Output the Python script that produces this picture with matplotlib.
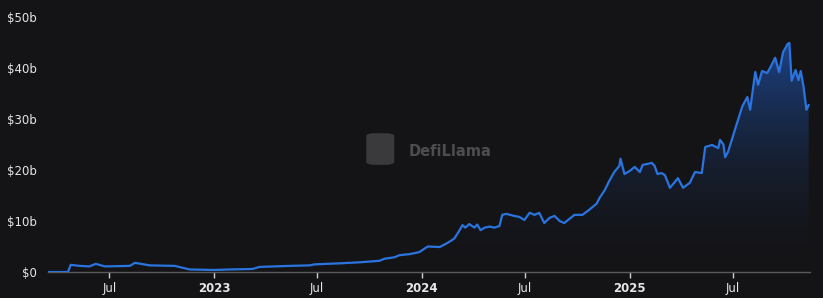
import numpy as np
import pandas as pd
import matplotlib
matplotlib.use("Agg")
import matplotlib.pyplot as plt
import matplotlib.dates as mdates
from matplotlib.patches import FancyBboxPatch

# ==================================================
# Daten (Milliarden USD)
# ==================================================

dates = [
    "2022-03-15", "2022-04-19", "2022-04-24", "2022-05-10", "2022-05-27", "2022-06-07",
    "2022-06-23", "2022-08-06", "2022-08-15", "2022-09-10", "2022-10-24", "2022-11-19",
    "2023-01-01", "2023-01-29", "2023-03-10", "2023-03-22", "2023-05-14", "2023-06-18",
    "2023-06-27", "2023-08-10", "2023-09-14", "2023-10-19", "2023-10-28", "2023-11-15",
    "2023-11-23", "2023-12-11", "2023-12-28", "2024-01-12", "2024-02-02", "2024-02-14",
    "2024-02-23", "2024-02-28", "2024-03-08", "2024-03-13", "2024-03-18", "2024-03-25",
    "2024-04-03", "2024-04-08", "2024-04-14", "2024-04-21", "2024-04-30", "2024-05-08",
    "2024-05-17", "2024-05-22", "2024-05-29", "2024-06-12", "2024-06-21", "2024-06-30",
    "2024-07-09", "2024-07-18", "2024-07-26", "2024-08-04", "2024-08-13", "2024-08-22",
    "2024-08-31", "2024-09-08", "2024-09-17", "2024-09-26", "2024-10-10", "2024-10-22",
    "2024-11-04", "2024-11-09", "2024-11-18", "2024-11-26", "2024-12-05", "2024-12-14",
    "2024-12-16", "2024-12-23", "2025-01-01", "2025-01-10", "2025-01-19", "2025-01-24",
    "2025-02-02", "2025-02-09", "2025-02-14", "2025-02-19", "2025-02-26", "2025-03-04",
    "2025-03-13", "2025-03-27", "2025-04-05", "2025-04-17", "2025-04-26", "2025-05-08",
    "2025-05-14", "2025-05-26", "2025-06-06", "2025-06-09", "2025-06-15", "2025-06-18",
    "2025-06-23", "2025-07-05", "2025-07-18", "2025-07-27", "2025-08-01", "2025-08-10",
    "2025-08-15", "2025-08-22", "2025-08-31", "2025-09-06", "2025-09-14", "2025-09-21",
    "2025-09-28", "2025-10-06", "2025-10-09", "2025-10-13", "2025-10-20", "2025-10-25",
    "2025-10-29", "2025-11-03", "2025-11-08", "2025-11-12",
]

tvl = [
    0.0, 0.0, 1.4, 1.2, 1.1, 1.6,
    1.1, 1.2, 1.8, 1.3, 1.2, 0.5,
    0.4, 0.5, 0.6, 1.0, 1.2, 1.3,
    1.5, 1.7, 1.9, 2.2, 2.6, 2.9,
    3.3, 3.5, 3.9, 5.0, 4.9, 5.6,
    6.2, 6.6, 8.2, 9.2, 8.7, 9.4,
    8.7, 9.3, 8.2, 8.7, 8.9, 8.7,
    9.0, 11.2, 11.4, 11.0, 10.8, 10.2,
    11.6, 11.2, 11.6, 9.6, 10.6, 11.0,
    10.0, 9.6, 10.4, 11.2, 11.2, 12.2,
    13.4, 14.5, 16.0, 17.8, 19.6, 20.8,
    22.2, 19.2, 19.8, 20.6, 19.6, 21.0,
    21.2, 21.4, 20.8, 19.2, 19.4, 19.0,
    16.5, 18.4, 16.5, 17.5, 19.6, 19.4,
    24.5, 24.9, 24.3, 25.9, 25.0, 22.5,
    23.5, 27.8, 32.4, 34.3, 31.8, 39.2,
    36.7, 39.4, 39.0, 40.2, 42.0, 39.2,
    43.1, 44.7, 44.9, 37.5, 39.6, 37.6,
    39.4, 36.3, 31.8, 32.7,
]

y_ticks = [0, 10, 20, 30, 40, 50]
y_labels = ["$0", "$10b", "$20b", "$30b", "$40b", "$50b"]

x_ticks = ["2022-07-01", "2023-01-01", "2023-07-01", "2024-01-01",
           "2024-07-01", "2025-01-01", "2025-07-01"]
x_labels = ["Jul", "2023", "Jul", "2024", "Jul", "2025", "Jul"]

# ==================================================
# Plot
# ==================================================

BG = "#141417"
LINE = "#2a74e0"
TEXT = "#e6e6e6"

x = pd.to_datetime(dates)
xn = mdates.date2num(x)
y = np.array(tvl)

fig = plt.figure(figsize=(8.23, 2.98), dpi=100, facecolor=BG)
ax = fig.add_axes([0.0583, 0.0872, 0.9257, 0.856])
ax.set_facecolor(BG)

ax.set_xlim(mdates.date2num(pd.Timestamp("2022-03-15")), mdates.date2num(pd.Timestamp("2025-11-14")))
ax.set_ylim(0, 50)

# Verlauf unter der Kurve
grad = np.linspace(0, 1, 256).reshape(-1, 1)
cmap = matplotlib.colors.LinearSegmentedColormap.from_list(
    "fade", [(0.08, 0.09, 0.11, 0.0), (0.13, 0.33, 0.68, 0.75)])
img = ax.imshow(grad, extent=[xn[0], xn[-1], 0, y.max()], origin="lower",
                aspect="auto", cmap=cmap, zorder=1)
poly = ax.fill_between(xn, y, 0, color="none", lw=0)
clip = poly.get_paths()[0]
img.set_clip_path(clip, transform=ax.transData)

ax.plot(xn, y, color=LINE, lw=1.6, zorder=3, solid_joinstyle="round")

# Achsen
for s in ["top", "right", "left"]:
    ax.spines[s].set_visible(False)
ax.spines["bottom"].set_color("#5a5a5e")
ax.spines["bottom"].set_linewidth(1)

ax.set_yticks(y_ticks)
ax.set_yticklabels(y_labels)
ax.tick_params(axis="y", length=0, pad=8, labelsize=8.5, colors=TEXT)

ax.set_xticks(mdates.date2num(pd.to_datetime(x_ticks)))
ax.set_xticklabels(x_labels)
ax.tick_params(axis="x", length=4, width=1, color="#cfcfcf", pad=3,
               labelsize=8.5, colors=TEXT)
for lbl in ax.get_xticklabels():
    if lbl.get_text() != "Jul":
        lbl.set_fontweight("bold")

# Wasserzeichen
fig.patches.append(FancyBboxPatch((0.448, 0.45), 0.028, 0.1,
                                  boxstyle="round,pad=0.003,rounding_size=0.01",
                                  transform=fig.transFigure, fc="#3a3a3c",
                                  ec="none", zorder=0.5))
fig.text(0.497, 0.493, "DefiLlama", color="#4d4d50", fontsize=10.5,
         fontweight="bold", va="center", ha="left", zorder=0.5)

fig.savefig("out.png", dpi=100, facecolor=BG)
